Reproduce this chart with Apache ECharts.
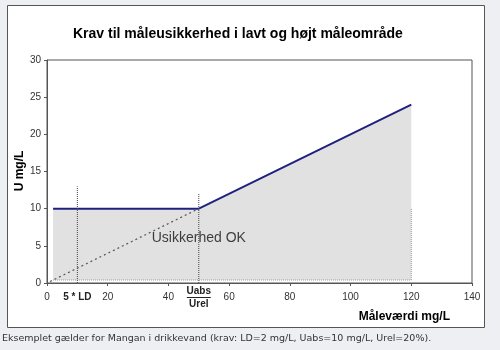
<!DOCTYPE html>
<html>
<head>
<meta charset="utf-8">
<script src="https://cdn.jsdelivr.net/npm/echarts@6/dist/echarts.min.js"></script>
<style>
  html, body { margin: 0; padding: 0; background: #edeff2; }
  #chart { width: 500px; height: 350px; }
</style>
</head>
<body>
<div id="chart"></div>
<script>
// Requirement curve: Uabs up to 50 mg/L, then Urel = 20 %
const reqX = [2, 50, 120];
const reqU = [10, 10, 24];
// Dotted Urel extension below 50 mg/L
const diagX = [1, 50];
const diagU = [0.2, 10];
// Dotted marker lines (5*LD and Uabs/Urel crossover)
const markX = [10, 50];
const markTop = [13, 12];
// Edges of the shaded region
const areaBase = 0.4;
const edgeX = [120];
const edgeTop = [10];
const baseX = [2, 120];
// Axis ticks
const xTicks = [0, 20, 40, 60, 80, 100, 120, 140];
const xLabels = [0, 10, 20, 40, 60, 80, 100, 120, 140];
const extraLabel = [50];
const okPoint = [50, 6];

const chart = echarts.init(document.getElementById('chart'));

const pairs = (xs, ys) => xs.map((x, i) => [x, ys[i]]);

const dotted = { type: 'dotted', color: '#444', width: 1 };

const series = [
  {
    type: 'line',
    data: pairs(reqX, reqU),
    symbol: 'none',
    lineStyle: { color: '#202080', width: 2 },
    areaStyle: { color: '#e1e1e1', opacity: 1, origin: areaBase },
    z: 2
  },
  {
    type: 'line',
    data: baseX.map(x => [x, areaBase]),
    symbol: 'none',
    lineStyle: { type: 'dotted', color: '#999', width: 1 },
    z: 3
  },
  {
    type: 'line',
    data: pairs(diagX, diagU),
    symbol: 'none',
    lineStyle: { type: [2, 3], color: '#555', width: 1.2 },
    z: 3
  }
];

markX.forEach((x, i) => {
  series.push({
    type: 'line',
    data: [[x, 0], [x, markTop[i]]],
    symbol: 'none',
    lineStyle: dotted,
    z: 3
  });
});

edgeX.forEach((x, i) => {
  series.push({
    type: 'line',
    data: [[x, areaBase], [x, edgeTop[i]]],
    symbol: 'none',
    lineStyle: { type: 'dotted', color: '#999', width: 1 },
    z: 3
  });
});

series.push({
  type: 'scatter',
  data: [okPoint],
  symbolSize: 0,
  label: {
    show: true,
    position: 'inside',
    formatter: 'Usikkerhed OK',
    fontFamily: 'Liberation Sans, Arial',
    fontSize: 14,
    color: '#111'
  },
  z: 4
});

const option = {
  backgroundColor: '#edeff2',
  animation: false,
  title: {
    text: 'Krav til måleusikkerhed i lavt og højt måleområde',
    left: 68,
    top: 22,
    textStyle: { fontFamily: 'Liberation Sans, Arial', fontSize: 14, fontWeight: 'bold', color: '#000' }
  },
  grid: {
    left: 47, right: 28, top: 60, bottom: 67,
    show: true, borderColor: '#555', borderWidth: 1, backgroundColor: 'transparent'
  },
  xAxis: [
    {
      type: 'value',
      min: 0, max: 140, interval: 10,
      axisLine: { lineStyle: { color: '#555' } },
      axisTick: { show: true, length: 3, customValues: xTicks, lineStyle: { color: '#555' } },
      splitLine: { show: false },
      axisLabel: {
        customValues: xLabels,
        margin: 9,
        fontFamily: 'Liberation Sans, Arial',
        fontSize: 10,
        color: '#333',
        formatter: v => v === 10 ? '{b|5 * LD}' : String(v),
        rich: { b: { fontWeight: 'bold', fontSize: 10, fontFamily: 'Liberation Sans, Arial', color: '#222' } }
      }
    },
    {
      type: 'value',
      position: 'bottom',
      min: 0, max: 140, interval: 10,
      axisLine: { show: false },
      axisTick: { show: false },
      splitLine: { show: false },
      axisLabel: {
        customValues: extraLabel,
        margin: 2,
        formatter: () => '{b|Uabs}\n{b|Urel}',
        rich: { b: { fontWeight: 'bold', fontSize: 10, lineHeight: 13, fontFamily: 'Liberation Sans, Arial', color: '#222' } }
      }
    }
  ],
  yAxis: {
    type: 'value',
    min: 0, max: 30, interval: 5,
    axisLine: { show: true, lineStyle: { color: '#555' } },
    axisTick: { show: true, length: 3, lineStyle: { color: '#555' } },
    splitLine: { show: false },
    axisLabel: { margin: 6, fontFamily: 'Liberation Sans, Arial', fontSize: 10, color: '#333' }
  },
  graphic: [
    {
      id: 'box',
      type: 'rect',
      z: -10,
      shape: { x: 7.5, y: 5.5, width: 477, height: 322 },
      style: { fill: '#fff', stroke: '#555', lineWidth: 1 }
    },
    {
      id: 'yname',
      type: 'text',
      x: 20,
      y: 171,
      rotation: Math.PI / 2,
      style: {
        text: 'U mg/L',
        font: 'bold 12px "Liberation Sans", Arial',
        fill: '#000',
        align: 'center',
        verticalAlign: 'middle'
      }
    },
    {
      id: 'xname',
      type: 'text',
      right: 50,
      top: 311,
      style: {
        text: 'Måleværdi mg/L',
        font: 'bold 12px "Liberation Sans", Arial',
        fill: '#000'
      }
    },
    {
      id: 'caption',
      type: 'text',
      left: 2,
      top: 334,
      style: {
        text: 'Eksemplet gælder for Mangan i drikkevand (krav: LD=2 mg/L, Uabs=10 mg/L, Urel=20%).',
        font: '9.5px "DejaVu Sans", Verdana',
        fill: '#333'
      }
    }
  ],
  series: series.map(s => Object.assign({ silent: true }, s))
};

chart.setOption(option);

// underline "Uabs" below the axis at its data position
const px = chart.convertToPixel({ xAxisIndex: 0 }, extraLabel[0]);
const py = chart.convertToPixel({ yAxisIndex: 0 }, 0);
chart.setOption({
  graphic: [
    {
      id: 'uline',
      type: 'line',
      z: 100,
      shape: { x1: px - 12, y1: py + 14.5, x2: px + 12, y2: py + 14.5 },
      style: { stroke: '#222', lineWidth: 1 }
    }
  ]
});
</script>
</body>
</html>
